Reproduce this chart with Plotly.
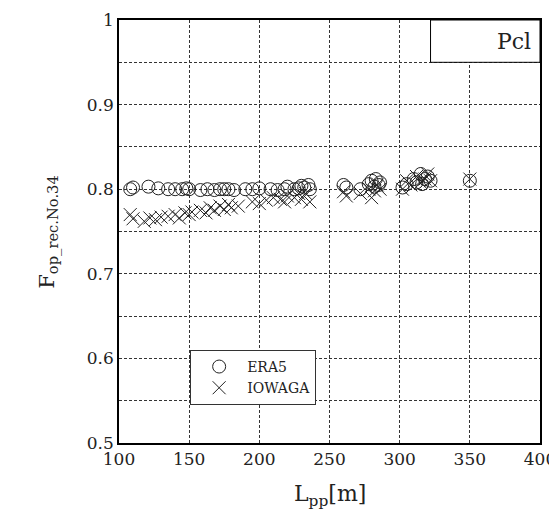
import plotly.graph_objects as go

# ERA5 (circles)
era5_L = [108, 110, 121, 128, 135, 140, 145, 148, 150, 158, 163, 168, 172, 175, 178, 182,
          190, 195, 200, 208, 213, 218, 220, 225, 228, 230, 232, 235, 236,
          260, 262, 272, 278, 280, 282, 283, 285, 286,
          302, 305, 310, 312, 315, 316, 318, 320, 322, 350]
era5_F = [0.800, 0.802, 0.803, 0.801, 0.800, 0.800, 0.800, 0.801, 0.800, 0.799, 0.800, 0.799, 0.800, 0.800, 0.800, 0.799,
          0.800, 0.800, 0.801, 0.800, 0.799, 0.800, 0.803, 0.800, 0.801, 0.804, 0.802, 0.805, 0.800,
          0.805, 0.802, 0.800, 0.806, 0.810, 0.803, 0.812, 0.805, 0.808,
          0.802, 0.806, 0.812, 0.808, 0.818, 0.806, 0.812, 0.815, 0.810, 0.810]

# IOWAGA (crosses)
iow_L = [108, 110, 118, 122, 126, 130, 135, 140, 143, 147, 150, 152, 158, 162, 165, 168, 172, 175, 178, 180,
         185, 195, 200, 205, 210, 215, 218, 220, 225, 228, 230, 233, 236,
         260, 262, 272, 278, 280, 282, 284, 286,
         302, 305, 308, 312, 315, 318, 320, 322, 350]
iow_F = [0.770, 0.765, 0.762, 0.766, 0.764, 0.767, 0.768, 0.770, 0.766, 0.772, 0.770, 0.773, 0.775, 0.772, 0.778, 0.775, 0.780, 0.776, 0.782, 0.778,
         0.780, 0.785, 0.783, 0.787, 0.790, 0.788, 0.785, 0.792, 0.790, 0.795, 0.788, 0.795, 0.785,
         0.797, 0.792, 0.795, 0.800, 0.790, 0.798, 0.805, 0.800,
         0.800, 0.810, 0.805, 0.815, 0.808, 0.812, 0.818, 0.810, 0.812]

x_ticks = [100, 150, 200, 250, 300, 350, 400]
y_tickvals = [0.5, 0.55, 0.6, 0.65, 0.7, 0.75, 0.8, 0.85, 0.9, 0.95, 1.0]
y_ticktext = ["0.5", "", "0.6", "", "0.7", "", "0.8", "", "0.9", "", "1"]

FONT = "DejaVu Serif, Liberation Serif, serif"
INK = "#222222"

fig = go.Figure()
fig.add_trace(go.Scatter(
    x=era5_L, y=era5_F, mode="markers", name="ERA5",
    marker=dict(symbol="circle-open", size=13, color=INK, line=dict(width=1, color=INK)),
))
fig.add_trace(go.Scatter(
    x=iow_L, y=iow_F, mode="markers", name="IOWAGA",
    marker=dict(symbol="x-thin-open", size=13, color=INK, line=dict(width=1, color=INK)),
))

grid = dict(showgrid=True, gridcolor="#333333", griddash="3px,2px", gridwidth=1)
fig.update_xaxes(
    range=[100, 400], tickvals=x_ticks, ticktext=[str(v) for v in x_ticks],
    showline=True, linecolor="black", linewidth=1.5, mirror=True, zeroline=False,
    ticks="", ticklen=0, tickfont=dict(family=FONT, size=17, color="#222"),
    automargin=False,
    **grid,
)
fig.update_yaxes(
    range=[0.5, 1.0], tickvals=y_tickvals, ticktext=y_ticktext,
    showline=True, linecolor="black", linewidth=1.5, mirror=True, zeroline=False,
    ticks="", ticklen=0, tickfont=dict(family=FONT, size=17, color="#222"),
    automargin=False,
    **grid,
)

# axis titles
fig.add_annotation(x=0.5, y=-0.085, xref="paper", yref="paper", text="L<sub>pp</sub>[m]",
                   showarrow=False, xanchor="center", yanchor="top",
                   font=dict(family=FONT, size=22, color="#222"))
fig.add_annotation(x=-0.168, y=0.5, xref="paper", yref="paper", text="F<sub>op_rec.No.34</sub>",
                   showarrow=False, xanchor="center", yanchor="middle", textangle=-90,
                   font=dict(family=FONT, size=21, color="#222"))

# Pcl label box
fig.add_shape(type="rect", xref="x", yref="y", x0=322, x1=400, y0=0.95, y1=1.0,
              fillcolor="white", line=dict(color="black", width=1), layer="above")
fig.add_annotation(x=395, y=0.975, xref="x", yref="y", text="Pcl", showarrow=False,
                   xanchor="right", yanchor="middle", font=dict(family=FONT, size=22, color="#222"))

fig.update_layout(
    width=549, height=521,
    margin=dict(l=111, r=17, t=12, b=86, autoexpand=False),
    paper_bgcolor="white", plot_bgcolor="white",
    showlegend=True,
    legend=dict(x=0.169, y=0.22, xanchor="left", yanchor="top",
                bgcolor="white", bordercolor="#333", borderwidth=1,
                font=dict(family=FONT, size=14, color="#222"),
                itemwidth=46, tracegroupgap=0),
)

fig.write_html("out.html")
